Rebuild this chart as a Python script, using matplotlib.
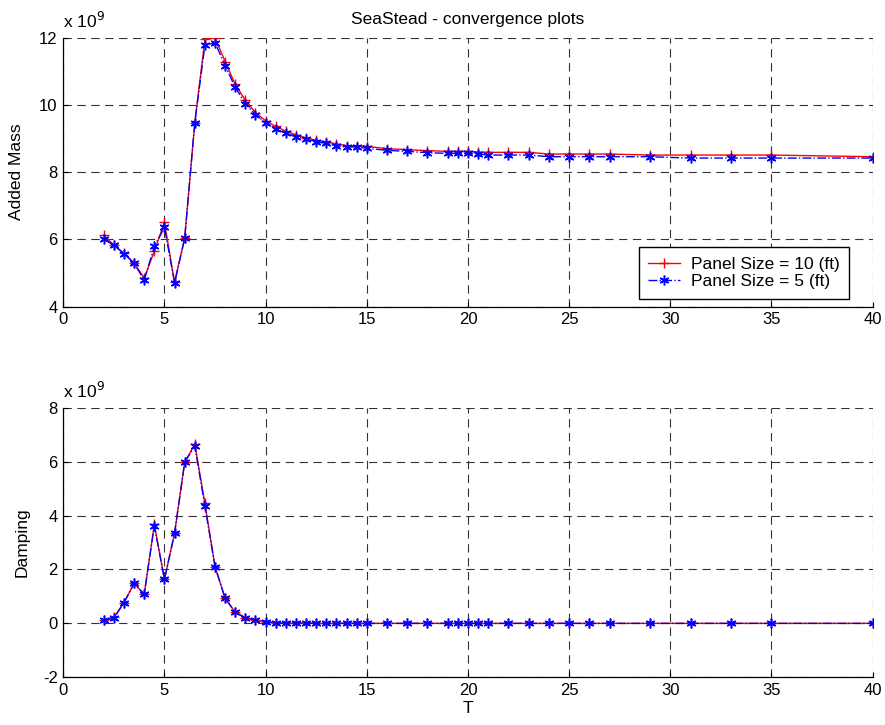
import matplotlib
matplotlib.use("Agg")
import matplotlib.pyplot as plt

plt.rcParams['font.family'] = ['Liberation Sans', 'DejaVu Sans']
plt.rcParams['lines.scale_dashes'] = False
plt.rcParams['axes.unicode_minus'] = False

# Datos (valores en unidades de 1e9)
T = [2, 2.5, 3, 3.5, 4, 4.5, 5, 5.5, 6, 6.5, 7, 7.5, 8, 8.5, 9, 9.5, 10,
     10.5, 11, 11.5, 12, 12.5, 13, 13.5, 14, 14.5, 15, 16, 17, 18, 19, 19.5,
     20, 20.5, 21, 22, 23, 24, 25, 26, 27, 29, 31, 33, 35, 40]

added_mass_10 = [6.13, 5.83, 5.59, 5.30, 4.85, 5.65, 6.51, 4.72, 6.04, 9.47,
                 11.95, 12.0, 11.29, 10.61, 10.14, 9.77, 9.53, 9.36, 9.22,
                 9.11, 9.02, 8.95, 8.90, 8.84, 8.79, 8.79, 8.77, 8.70, 8.67,
                 8.64, 8.62, 8.62, 8.62, 8.60, 8.59, 8.59, 8.59, 8.54, 8.54,
                 8.54, 8.54, 8.51, 8.51, 8.51, 8.51, 8.46]
added_mass_5 = [6.02, 5.82, 5.58, 5.29, 4.79, 5.79, 6.36, 4.71, 6.03, 9.47,
                11.78, 11.85, 11.17, 10.52, 10.04, 9.71, 9.47, 9.28, 9.16,
                9.06, 8.98, 8.90, 8.86, 8.79, 8.75, 8.75, 8.71, 8.65, 8.62,
                8.58, 8.56, 8.56, 8.56, 8.54, 8.51, 8.51, 8.51, 8.46, 8.46,
                8.46, 8.46, 8.46, 8.42, 8.42, 8.42, 8.42]

damping_10 = [0.12, 0.22, 0.77, 1.48, 1.08, 3.67, 1.63, 3.34, 5.97, 6.65,
              4.45, 2.10, 0.93, 0.41, 0.21, 0.12, 0.06, 0.02, 0.01, 0.01,
              0.01, 0.0, 0.0, 0.0, 0.0, 0.0, 0.0, 0.0, 0.0, 0.0, 0.0, 0.0,
              0.0, 0.0, 0.0, 0.0, 0.0, 0.0, 0.0, 0.0, 0.0, 0.0, 0.0, 0.0,
              0.0, 0.0]
damping_5 = [0.12, 0.19, 0.77, 1.48, 1.08, 3.62, 1.63, 3.34, 5.97, 6.58,
             4.35, 2.10, 0.93, 0.41, 0.21, 0.12, 0.06, 0.02, 0.01, 0.01,
             0.01, 0.0, 0.0, 0.0, 0.0, 0.0, 0.0, 0.0, 0.0, 0.0, 0.0, 0.0,
             0.0, 0.0, 0.0, 0.0, 0.0, 0.0, 0.0, 0.0, 0.0, 0.0, 0.0, 0.0,
             0.0, 0.0]

labels = ["Panel Size = 10 (ft)", "Panel Size = 5 (ft)"]

# Gráfica
fig = plt.figure(figsize=(8.85, 7.25), dpi=100)
ax1 = fig.add_axes([0.0715, 0.577, 0.9145, 0.371])
ax2 = fig.add_axes([0.0715, 0.0658, 0.9145, 0.3719])

star = (6, 2, 0)  # asterisco tipo MATLAB


def style(ax, ylim, yticks):
    ax.set_xlim(0, 40)
    ax.set_ylim(*ylim)
    ax.set_xticks(range(0, 41, 5))
    ax.set_yticks(yticks)
    ax.grid(True, color='#333333', linestyle=(0, (6, 4)), linewidth=0.8)
    for s in ('top', 'right'):
        ax.spines[s].set_visible(False)
    for s in ('left', 'bottom'):
        ax.spines[s].set_linewidth(0.9)
    ax.tick_params(direction='in', length=3.5, width=0.8, labelsize=12,
                   pad=4)


ax1.plot(T, added_mass_10, 'r-', marker='+', markersize=7, linewidth=1,
         label=labels[0])
ax1.plot(T, added_mass_5, 'b-.', marker=star, markersize=7, linewidth=1,
         markeredgewidth=1.1, label=labels[1])
style(ax1, (4, 12), [4, 6, 8, 10, 12])
ax1.set_ylabel("Added Mass", fontsize=12.5)
ax1.yaxis.set_label_coords(-0.0486, 0.5)
ax1.set_title("SeaStead - convergence plots", fontsize=12.5, pad=10)
ax1.text(0, 1.025, r"x 10$^{9}$", transform=ax1.transAxes, fontsize=12.5,
         va='bottom', ha='left')
leg = ax1.legend(loc='lower right', bbox_to_anchor=(0.9707, 0.0286),
                 borderaxespad=0, fontsize=12.5, fancybox=False,
                 edgecolor='black', framealpha=1, handlelength=1.85,
                 handletextpad=0.6, borderpad=0.55, labelspacing=0.15)
leg.get_frame().set_linewidth(1)

ax2.plot(T, damping_10, 'r-', marker='+', markersize=7, linewidth=1)
ax2.plot(T, damping_5, 'b-.', marker=star, markersize=7, linewidth=1,
         markeredgewidth=1.1)
style(ax2, (-2, 8), [-2, 0, 2, 4, 6, 8])
ax2.set_ylabel("Damping", fontsize=12.5)
ax2.yaxis.set_label_coords(-0.0412, 0.5)
ax2.set_xlabel("T", fontsize=12.5, labelpad=2)
ax2.text(0, 1.025, r"x 10$^{9}$", transform=ax2.transAxes, fontsize=12.5,
         va='bottom', ha='left')

fig.savefig("out.png", dpi=100)
